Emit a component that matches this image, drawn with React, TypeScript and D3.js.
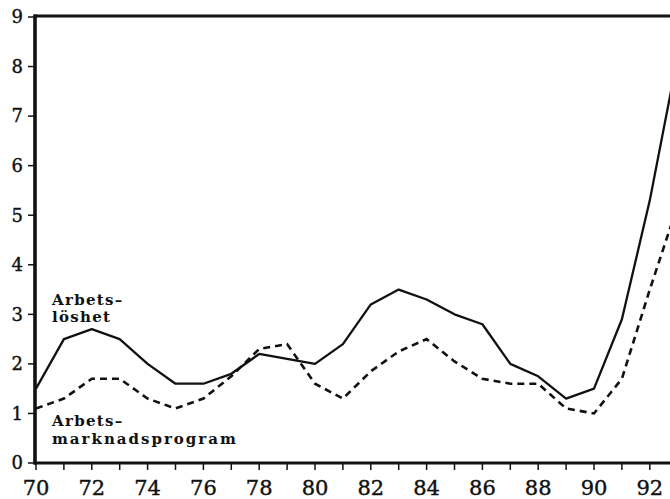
import { FC } from 'react';
import * as d3 from 'd3';

// Years shown on the x axis
const years = d3.range(70, 94);
// Arbetslöshet (solid), percent
const unemployment = [1.5, 2.5, 2.7, 2.5, 2.0, 1.6, 1.6, 1.8, 2.2, 2.1, 2.0, 2.4, 3.2, 3.5, 3.3, 3.0, 2.8, 2.0, 1.75, 1.3, 1.5, 2.9, 5.3, 8.2];
// Arbetsmarknadsprogram (dashed), percent
const programs = [1.1, 1.3, 1.7, 1.7, 1.3, 1.1, 1.3, 1.75, 2.3, 2.4, 1.6, 1.3, 1.85, 2.25, 2.5, 2.05, 1.7, 1.6, 1.6, 1.1, 1.0, 1.7, 3.5, 5.2];
const yTicks = [0, 1, 2, 3, 4, 5, 6, 7, 8, 9];
const xLabels = [70, 72, 74, 76, 78, 80, 82, 84, 86, 88, 90, 92];

const W = 670;
const H = 499;

const App: FC = () => {
  const x = d3.scaleLinear().domain([70, 93]).range([36, 36 + 23 * 27.9]);
  const y = d3.scaleLinear().domain([0, 9]).range([463, 17]);

  const line = d3
    .line<number>()
    .x((_, i) => x(years[i]))
    .y((d) => y(d));

  const serif = '"DejaVu Serif", serif';

  return (
    <svg
      width={W}
      height={H}
      style={{ position: 'absolute', left: 0, top: 0, background: '#fff' }}
    >
      {/* top frame line */}
      <line x1={x(70) - 2} x2={W} y1={y(9) - 1} y2={y(9) - 1} stroke="#111" strokeWidth={3} />
      {/* y axis */}
      <line x1={x(70) - 1} x2={x(70) - 1} y1={y(9) - 2.5} y2={y(0) + 1.5} stroke="#111" strokeWidth={3.6} />
      {/* x axis */}
      <line x1={x(70) - 2.5} x2={W} y1={y(0)} y2={y(0)} stroke="#111" strokeWidth={3.2} />

      {yTicks.map((t) => (
        <g key={t}>
          <line x1={x(70) - 8} x2={x(70)} y1={y(t)} y2={y(t)} stroke="#111" strokeWidth={1.5} />
          <text
            x={23}
            y={y(t)}
            dy="0.35em"
            textAnchor="end"
            fontFamily={serif}
            fontSize={18}
            fill="#111"
            stroke="#111"
            strokeWidth={0.4}
          >
            {t}
          </text>
        </g>
      ))}

      {years.slice(0, 23).map((t) => (
        <line key={t} x1={x(t)} x2={x(t)} y1={y(0)} y2={y(0) + 7} stroke="#111" strokeWidth={1.5} />
      ))}
      {xLabels.map((t) => (
        <text
          key={t}
          x={x(t)}
          y={495}
          textAnchor="middle"
          fontFamily={serif}
          fontSize={21}
          fill="#111"
          stroke="#111"
          strokeWidth={0.4}
        >
          {t}
        </text>
      ))}

      <path d={line(unemployment) ?? ''} fill="none" stroke="#111" strokeWidth={2.3} strokeLinejoin="round" />
      <path
        d={line(programs) ?? ''}
        fill="none"
        stroke="#111"
        strokeWidth={2.6}
        strokeDasharray="7,5"
      />

      <g fontFamily={serif} fontWeight="bold" fontSize={15} fill="#111" letterSpacing={1.3}>
        <text x={52} y={305}>Arbets–</text>
        <text x={52} y={322}>löshet</text>
        <text x={52} y={426}>Arbets–</text>
        <text x={52} y={444} letterSpacing={2}>marknadsprogram</text>
      </g>
    </svg>
  );
};

export default App;
